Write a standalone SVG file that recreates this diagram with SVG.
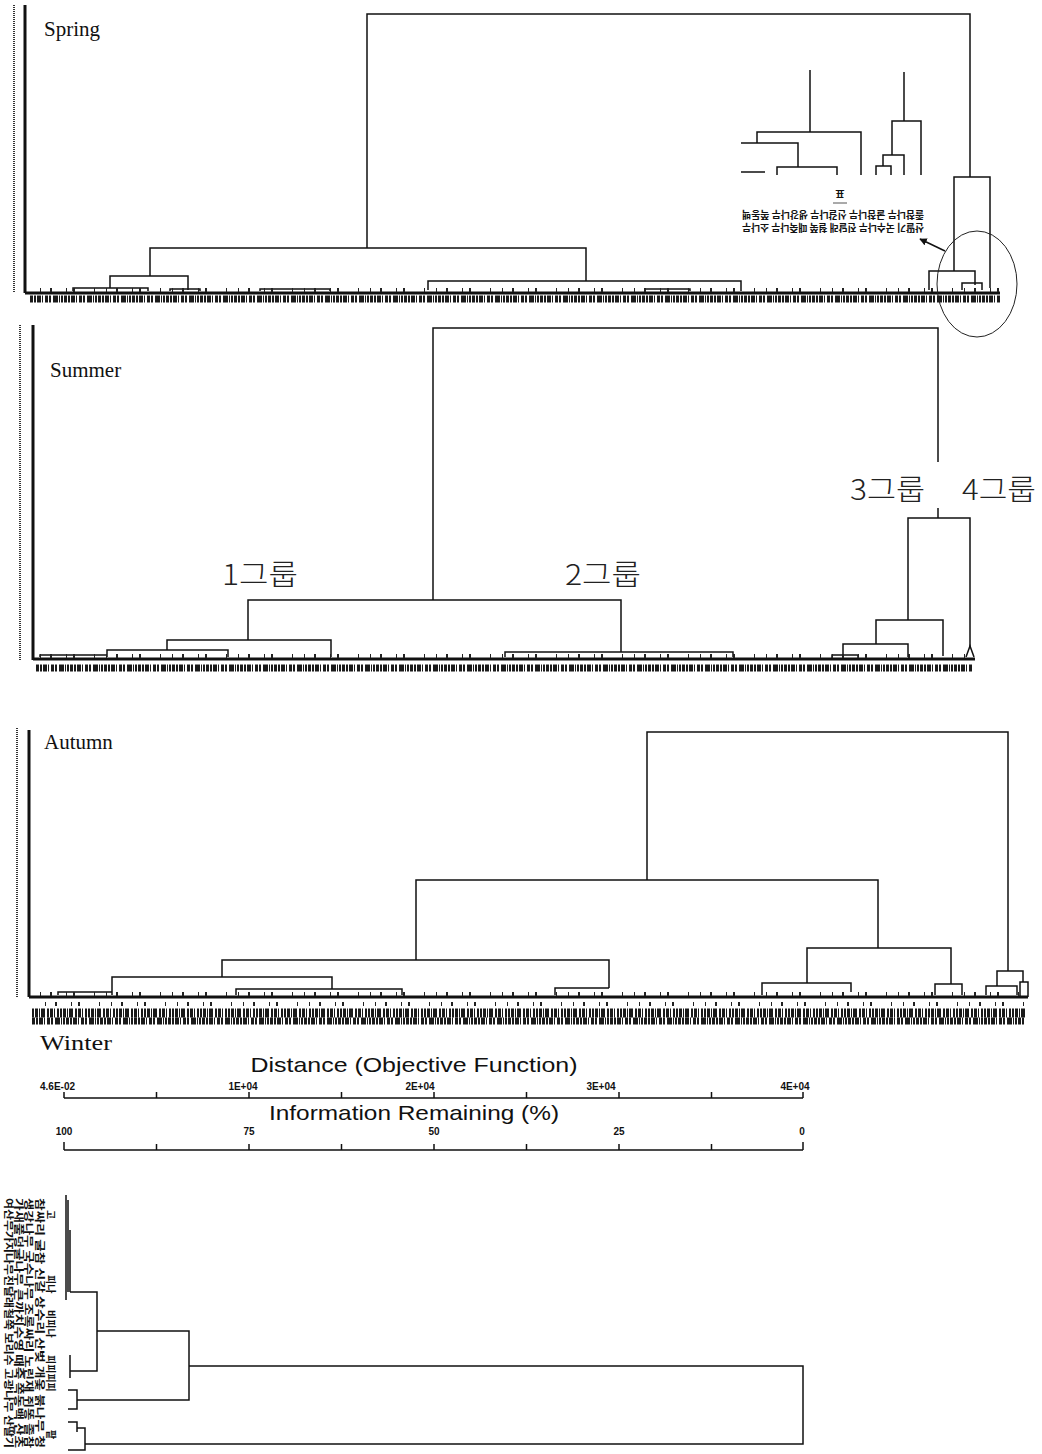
<svg xmlns="http://www.w3.org/2000/svg" width="1042" height="1454" viewBox="0 0 1042 1454">
<style>
.ln{stroke:#111;stroke-width:1.5;fill:none}
.tk{stroke:#111;stroke-width:3;fill:none}
.dot{stroke:#333;stroke-width:2;stroke-dasharray:1 1;fill:none}
.band{stroke:#1a1a1a;stroke-width:7;stroke-dasharray:3 1 2 1 4 1 1 2 3 1 2 2 5 1 1 1 2 1;fill:none}
.band2{stroke:#1a1a1a;stroke-width:9;stroke-dasharray:2 1 3 1 1 1 4 2 2 1 3 1 1 2 2 1;fill:none}
.mk{stroke:#222;stroke-width:4;stroke-dasharray:1 9 2 14 1 6 2 19 1 11;fill:none}
.ser{font-family:"Liberation Serif",serif;font-size:21px;fill:#111}
.kr{font-family:"Noto Sans CJK KR",sans-serif;font-weight:300;font-size:28px;fill:#222}
.ax{font-family:"Liberation Sans",sans-serif;font-size:21px;fill:#111}
.tl{font-family:"Liberation Sans",sans-serif;font-size:10px;font-weight:bold;fill:#111}
.sk{font-family:"Noto Sans CJK KR",sans-serif;font-size:10px;font-weight:bold;fill:#111}
</style>
<defs>
<marker id="ah" viewBox="0 0 10 10" refX="9" refY="5" markerWidth="5" markerHeight="5" orient="auto"><path d="M0,0 L10,5 L0,10 z" fill="#111"/></marker>
</defs>
<rect width="1042" height="1454" fill="#fff"/>

<!-- SPRING -->
<g id="spring">
<line class="dot" x1="14" y1="5" x2="14" y2="293"/>
<line class="tk" x1="25" y1="5" x2="25" y2="293"/>
<text class="ser" x="44" y="36">Spring</text>
<g id="spring-tree">
<path class="ln" d="M367,248 V14 H970 V177"/>
<path class="ln" d="M150,276 V248 H586 V281"/>
<path class="ln" d="M110,288 V276 H188 V290"/>
<path class="ln" d="M428,290 V281 H741 V291"/>
<path class="ln" d="M73,291 V288 H148 V291"/>
<path class="ln" d="M170,291 V289 H200 V291"/>
<path class="ln" d="M645,291 V289 H690 V291"/>
<path class="ln" d="M260,291 V289 H330 V291"/>
<path class="ln" d="M954,271 V177 H990 V288"/>
<path class="ln" d="M929,290 V271 H975 V285"/>
<path class="ln" d="M962,290 V283 H982 V290"/>
<line class="tk" x1="25" y1="293" x2="1000" y2="293"/>
</g>
<line class="band" x1="30" y1="299" x2="1000" y2="299"/>
<line class="mk" x1="40" y1="290" x2="1000" y2="290"/>
<g id="spring-inset">
<path class="ln" d="M810,70 V132 M757,143 V132 H861 V175 M741,143 H798 V167 M777,175 V167 H837 V175 M892,155 V121 H921 V175 M904,72 V121 M883,166 V155 H904 V175 M876,175 V166 H891 V175 M741,172 H765"/>
<text class="sk" x="840" y="198" text-anchor="middle" transform="rotate(180 840 194)">표</text>
<line x1="833" y1="203" x2="847" y2="203" stroke="#555" stroke-width="1"/>
<text class="sk" x="833" y="219" text-anchor="middle" textLength="182" lengthAdjust="spacingAndGlyphs" transform="rotate(180 833 215)">졸참나무 굴참나무 신갈나무 생강나무 쪽동백</text>
<text class="sk" x="833" y="232" text-anchor="middle" textLength="182" lengthAdjust="spacingAndGlyphs" transform="rotate(180 833 228)">산딸기 국수나무 진달래 철쭉 때죽나무 소나무</text>
</g>
<line x1="945" y1="251" x2="920" y2="239" stroke="#111" stroke-width="1.5" marker-end="url(#ah)"/>
<ellipse cx="977" cy="284" rx="40" ry="53" fill="none" stroke="#222" stroke-width="1"/>
</g>

<!-- SUMMER -->
<g id="summer">
<line class="dot" x1="20" y1="325" x2="20" y2="660"/>
<line class="tk" x1="33" y1="325" x2="33" y2="660"/>
<text class="ser" x="50" y="377">Summer</text>
<path class="ln" d="M433,600 V328 H938 V462 M938,508 V518"/>
<path class="ln" d="M248,640 V600 H621 V652"/>
<path class="ln" d="M167,650 V640 H331 V657"/>
<path class="ln" d="M107,657 V650 H228 V657"/>
<path class="ln" d="M505,657 V652 H733 V657"/>
<path class="ln" d="M40,657 V655 H107"/>
<path class="ln" d="M908,620 V518 H970 V648"/>
<path class="ln" d="M876,644 V620 H943 V656"/>
<path class="ln" d="M843,655 V644 H908 V657"/>
<path class="ln" d="M832,658 V655 H858 V658"/>
<path class="ln" d="M966,657 L970,646 L974,657"/>
<line class="tk" x1="33" y1="659" x2="975" y2="659"/>
<line class="mk" x1="40" y1="656" x2="972" y2="656"/>
<line class="band" x1="36" y1="668" x2="972" y2="668"/>
<text class="kr" x="222" y="585" textLength="76" lengthAdjust="spacingAndGlyphs">1그룹</text>
<text class="kr" x="565" y="585" textLength="76" lengthAdjust="spacingAndGlyphs">2그룹</text>
<text class="kr" x="850" y="500" textLength="75" lengthAdjust="spacingAndGlyphs">3그룹</text>
<text class="kr" x="962" y="500" textLength="74" lengthAdjust="spacingAndGlyphs">4그룹</text>
</g>

<!-- AUTUMN -->
<g id="autumn">
<line class="dot" x1="17" y1="728" x2="17" y2="997"/>
<line class="tk" x1="29" y1="730" x2="29" y2="997"/>
<text class="ser" x="44" y="749">Autumn</text>
<path class="ln" d="M647,880 V732 H1008 V971"/>
<path class="ln" d="M416,960 V880 H878 V948"/>
<path class="ln" d="M222,977 V960 H609 V988"/>
<path class="ln" d="M112,995 V977 H332 V989"/>
<path class="ln" d="M236,995 V989 H402 V995"/>
<path class="ln" d="M555,995 V988 H609"/>
<path class="ln" d="M58,995 V992 H112"/>
<path class="ln" d="M807,983 V948 H951 V984"/>
<path class="ln" d="M762,995 V983 H851 V992"/>
<path class="ln" d="M935,995 V984 H962 V995"/>
<path class="ln" d="M997,986 V971 H1023 V982"/>
<path class="ln" d="M986,995 V986 H1017 V995"/>
<path class="ln" d="M1020,997 V982 H1028 V997"/>
<line class="tk" x1="29" y1="997" x2="1028" y2="997"/>
<line class="mk" x1="40" y1="994" x2="1025" y2="994"/>
<line class="mk" x1="45" y1="1004" x2="1025" y2="1004"/>
<line class="band2" x1="32" y1="1013" x2="1025" y2="1013"/>
<line class="band" x1="32" y1="1021" x2="1025" y2="1021"/>
</g>

<!-- WINTER -->
<g id="winter">
<text class="ser" x="40" y="1050" font-size="22" textLength="72" lengthAdjust="spacingAndGlyphs">Winter</text>
<text class="ax" x="414" y="1072" text-anchor="middle" textLength="327" lengthAdjust="spacingAndGlyphs">Distance (Objective Function)</text>
<text class="tl" x="40" y="1090">4.6E-02</text>
<text class="tl" x="243" y="1090" text-anchor="middle">1E+04</text>
<text class="tl" x="420" y="1090" text-anchor="middle">2E+04</text>
<text class="tl" x="601" y="1090" text-anchor="middle">3E+04</text>
<text class="tl" x="795" y="1090" text-anchor="middle">4E+04</text>
<path class="ln" stroke-width="2" d="M64,1098 H803 M64,1092 V1098 M156.5,1092 V1098 M249,1092 V1098 M341.5,1092 V1098 M434,1092 V1098 M526.5,1092 V1098 M619,1092 V1098 M711.5,1092 V1098 M803,1092 V1098"/>
<text class="ax" x="414" y="1120" text-anchor="middle" textLength="290" lengthAdjust="spacingAndGlyphs">Information Remaining (%)</text>
<text class="tl" x="64" y="1135" text-anchor="middle">100</text>
<text class="tl" x="249" y="1135" text-anchor="middle">75</text>
<text class="tl" x="434" y="1135" text-anchor="middle">50</text>
<text class="tl" x="619" y="1135" text-anchor="middle">25</text>
<text class="tl" x="802" y="1135" text-anchor="middle">0</text>
<path class="ln" stroke-width="2" d="M64,1150 H803 M64,1142 V1150 M156.5,1144 V1150 M249,1144 V1150 M341.5,1144 V1150 M434,1144 V1150 M526.5,1144 V1150 M619,1144 V1150 M711.5,1144 V1150 M803,1142 V1150"/>
<g id="winter-tree">
<path class="ln" d="M66,1195 V1300 M68,1200 V1292 M70,1230 V1292"/>
<path class="ln" d="M70,1292 H97 V1371 H70 M70,1355 V1378"/>
<path class="ln" d="M97,1331 H189 V1400 H77"/>
<path class="ln" d="M68,1390 H77 V1409 H68"/>
<path class="ln" d="M189,1366 H803 V1444 H85"/>
<path class="ln" d="M68,1422 H77 V1432 M77,1428 H85 V1450 H68"/>
</g>
<g id="winter-labels" class="sk">
<text transform="translate(5,1198) rotate(90)" textLength="250" lengthAdjust="spacingAndGlyphs">여산무가지나무진달래철쭉 보리수 고광나무 산딸기</text>
<text transform="translate(15,1198) rotate(90)" textLength="250" lengthAdjust="spacingAndGlyphs">가새풀덩굴나무 큰까치수영 때죽 쪽동백 산초</text>
<text transform="translate(25,1198) rotate(90)" textLength="250" lengthAdjust="spacingAndGlyphs">생강나무 국수나무 조록싸리 노린재 쥐똥 졸참</text>
<text transform="translate(36,1198) rotate(90)" textLength="250" lengthAdjust="spacingAndGlyphs">참싸리 굴참 신갈 상수리 산벚 개옻 붉나무 청</text>
<text transform="translate(47,1210) rotate(90)">고</text>
<text transform="translate(47,1275) rotate(90)">피나</text>
<text transform="translate(47,1310) rotate(90)">비피나</text>
<text transform="translate(47,1355) rotate(90)">피피피피</text>
<text transform="translate(47,1430) rotate(90)">팥</text>
</g>
</g>
</svg>
